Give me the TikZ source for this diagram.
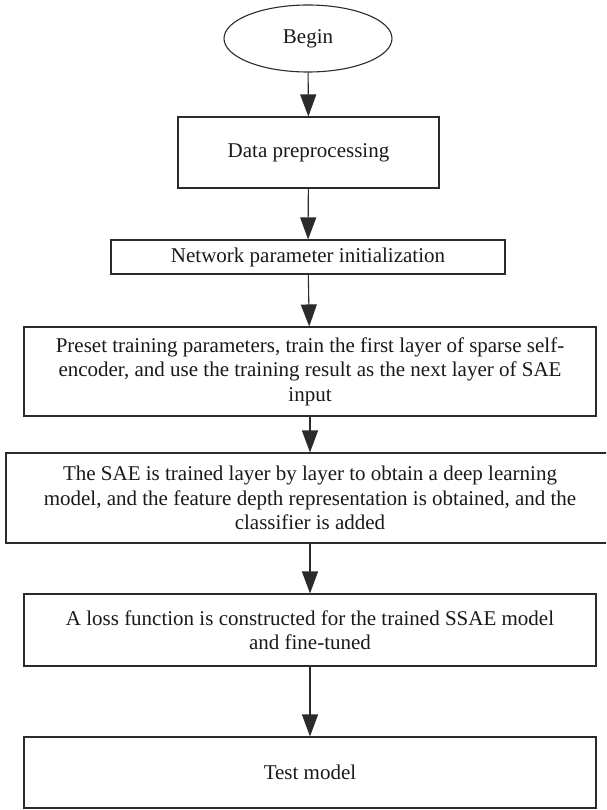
\documentclass[tikz,border=0pt]{standalone}
\usepackage{fontspec}
\setmainfont{Liberation Serif}
\usetikzlibrary{arrows.meta,shapes.geometric}
\definecolor{linegray}{HTML}{2B2B2B}
\tikzset{
  flowbox/.style={draw=linegray, line width=1.1pt, rectangle, align=center, inner sep=0pt,
    font=\fontsize{21}{24.5}\selectfont, text=black!90},
  startnode/.style={draw=linegray, line width=1.1pt, ellipse, inner sep=0pt,
    font=\fontsize{21}{24.5}\selectfont, text=black!90},
  flowarrow/.style={draw=linegray, line width=1.1pt, -{Triangle[length=22pt,width=16pt]}}
}
\begin{document}
\begin{tikzpicture}[x=1pt,y=-1pt]
\useasboundingbox (0,0) rectangle (606,810);
\clip (0,0) rectangle (606,810);
\node[startnode, minimum width=168pt, minimum height=67pt] (begin) at (308,38.5) {Begin};
\node[flowbox, minimum width=261pt, minimum height=71pt] (b1) at (308.5,152.5) {Data preprocessing};
\node[flowbox, minimum width=394pt, minimum height=34pt] (b2) at (308,257) {Network parameter initialization};
\node[flowbox, minimum width=572pt, minimum height=89pt] (b3) at (310,371.5) {Preset training parameters, train the first layer of sparse self-\\encoder, and use the training result as the next layer of SAE\\input};
\node[flowbox, minimum width=608pt, minimum height=90pt] (b4) at (310,498) {The SAE is trained layer by layer to obtain a deep learning\\model, and the feature depth representation is obtained, and the\\classifier is added};
\node[flowbox, minimum width=572pt, minimum height=72pt] (b5) at (310,630) {A loss function is constructed for the trained SSAE model\\and fine-tuned};
\node[flowbox, minimum width=572pt, minimum height=71pt] (b6) at (310,772.5) {Test model};
\draw[flowarrow] (begin) -- (b1);
\draw[flowarrow] (b1) -- (b2);
\draw[flowarrow] (b2) -- (b3);
\draw[flowarrow] (b3) -- (b4);
\draw[flowarrow] (b4) -- (b5);
\draw[flowarrow] (b5) -- (b6);
\end{tikzpicture}
\end{document}
